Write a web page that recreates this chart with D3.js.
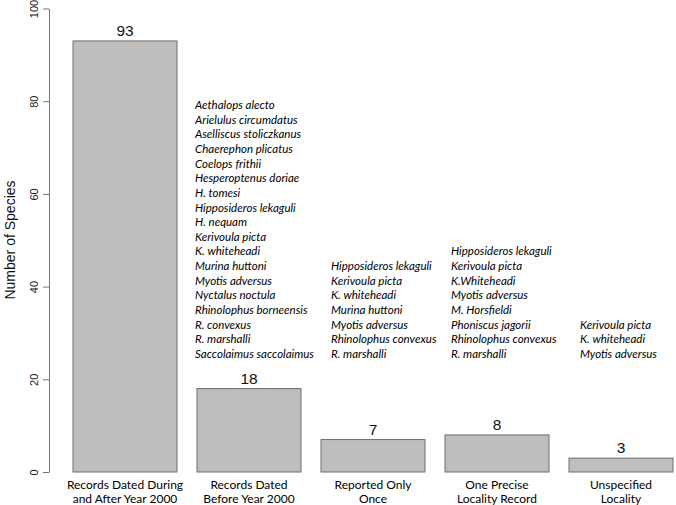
<!DOCTYPE html>
<html>
<head>
<meta charset="utf-8">
<script src="https://cdn.jsdelivr.net/npm/d3@7"></script>
<style>
  body { margin: 0; background: #fff; }
  .calib { font-family: Lato, "Open Sans", sans-serif; }
  .helv { font-family: "Liberation Sans", Arial, sans-serif; }
</style>
</head>
<body>
<svg id="chart" width="676" height="505"></svg>
<script>
var categories = [
  ["Records Dated During", "and After Year 2000"],
  ["Records Dated", "Before Year 2000"],
  ["Reported Only", "Once"],
  ["One Precise", "Locality Record"],
  ["Unspecified", "Locality"]
];
var counts = [93, 18, 7, 8, 3];
var yTicks = [0, 20, 40, 60, 80, 100];

var speciesAfter2000 = [];
var speciesBefore2000 = [
  "Aethalops alecto", "Arielulus circumdatus", "Aselliscus stoliczkanus",
  "Chaerephon plicatus", "Coelops frithii", "Hesperoptenus doriae",
  "H. tomesi", "Hipposideros lekaguli", "H. nequam", "Kerivoula picta",
  "K. whiteheadi", "Murina huttoni", "Myotis adversus", "Nyctalus noctula",
  "Rhinolophus borneensis", "R. convexus", "R. marshalli",
  "Saccolaimus saccolaimus"
];
var speciesOnce = [
  "Hipposideros lekaguli", "Kerivoula picta", "K. whiteheadi",
  "Murina huttoni", "Myotis adversus", "Rhinolophus convexus", "R. marshalli"
];
var speciesOneLocality = [
  "Hipposideros lekaguli", "Kerivoula picta", "K.Whiteheadi",
  "Myotis adversus", "M. Horsfieldi", "Phoniscus jagorii",
  "Rhinolophus convexus", "R. marshalli"
];
var speciesUnspecified = ["Kerivoula picta", "K. whiteheadi", "Myotis adversus"];

(function() {
	var svg = d3.select("#chart");

	var y = d3.scaleLinear().domain([0, 100]).range([472, 8.5]);
	// step 124px, bars 104px wide
	var x = d3.scaleBand().domain(d3.range(counts.length))
			.range([63, 683]).paddingInner(20 / 124).paddingOuter(10 / 124);

	// y axis
	var yAxis = d3.axisLeft(y).tickValues(yTicks).tickSize(6).tickSizeOuter(0);
	var ag = svg.append("g").attr("transform", "translate(49,0)").call(yAxis);
	ag.select(".domain").attr("stroke", "#777");
	ag.selectAll(".tick line").attr("stroke", "#777");
	ag.selectAll(".tick text")
			.attr("class", "helv")
			.attr("font-size", 11)
			.attr("fill", "#222")
			.attr("transform", "rotate(-90)")
			.attr("x", 0).attr("y", -15)
			.attr("dy", "0.35em")
			.attr("text-anchor", "middle");

	svg.append("text").attr("class", "helv")
			.attr("transform", "translate(15,240) rotate(-90)")
			.attr("text-anchor", "middle").attr("font-size", 14)
			.attr("fill", "#111")
			.text("Number of Species");

	// bars
	svg.selectAll("rect.bar").data(counts).enter().append("rect")
			.attr("class", "bar")
			.attr("x", function(d, i) { return x(i); })
			.attr("y", function(d) { return y(d); })
			.attr("width", x.bandwidth())
			.attr("height", function(d) { return y(0) - y(d); })
			.attr("fill", "#bebebe")
			.attr("stroke", "#6e6e6e")
			.attr("stroke-width", 1);

	svg.selectAll("text.val").data(counts).enter().append("text")
			.attr("class", "val helv")
			.attr("x", function(d, i) { return x(i) + x.bandwidth() / 2; })
			.attr("y", function(d) { return y(d) - 5; })
			.attr("text-anchor", "middle")
			.attr("font-size", 15.5)
			.attr("fill", "#111")
			.text(function(d) { return d; });

	// category labels
	categories.forEach(function(lines, i) {
		var t = svg.append("text").attr("class", "calib")
				.attr("text-anchor", "middle")
				.attr("font-size", 12)
				.attr("fill", "#000");
		lines.forEach(function(l, j) {
			t.append("tspan").attr("x", x(i) + x.bandwidth() / 2)
					.attr("y", 488.5 + j * 14.5).text(l);
		});
	});

	// species lists, bottom-aligned
	var lists = [speciesAfter2000, speciesBefore2000, speciesOnce, speciesOneLocality, speciesUnspecified];
	var listX = [0, 195, 331, 451, 580];
	var baseY = 358, lineH = 14.65;
	lists.forEach(function(list, i) {
		list.forEach(function(name, j) {
			svg.append("text").attr("class", "calib")
					.attr("x", listX[i])
					.attr("y", baseY - (list.length - 1 - j) * lineH)
					.attr("font-size", 11.5)
					.attr("font-style", "italic")
					.attr("fill", "#000")
					.text(name);
		});
	});
})();
</script>
</body>
</html>
